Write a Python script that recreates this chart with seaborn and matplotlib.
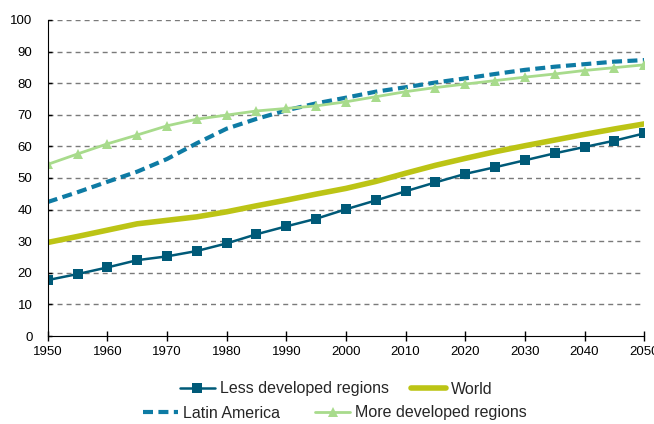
import numpy as np
import pandas as pd
from matplotlib import pyplot as plt
import seaborn as sns

years = list(range(1950, 2051, 5))
less_developed = [17.7, 19.6, 21.7, 24.0, 25.2, 26.9, 29.3, 32.2, 34.7, 37.1, 40.1,
                  42.9, 45.8, 48.6, 51.3, 53.4, 55.6, 57.8, 59.8, 61.8, 64.1]
world = [29.6, 31.5, 33.5, 35.5, 36.6, 37.7, 39.3, 41.2, 43.0, 44.9, 46.7,
         48.9, 51.5, 54.0, 56.2, 58.3, 60.2, 62.0, 63.8, 65.5, 67.1]
latin_america = [42.4, 45.5, 48.8, 52.0, 56.0, 61.0, 65.6, 68.7, 71.4, 73.6, 75.4,
                 77.3, 78.7, 80.2, 81.5, 82.9, 84.2, 85.2, 86.0, 86.8, 87.3]
more_developed = [54.3, 57.6, 60.8, 63.6, 66.5, 68.6, 69.9, 71.2, 72.0, 72.8, 74.1,
                  75.7, 77.3, 78.6, 79.7, 80.8, 81.9, 82.9, 84.0, 84.9, 85.8]

sns.set_style("white")
plt.rcParams['font.family'] = ['Liberation Sans', 'DejaVu Sans']

fig = plt.figure(figsize=(6.54, 4.24), dpi=100)
ax = fig.add_axes([0.073, 0.2075, 0.912, 0.7455])

df = pd.DataFrame({'year': years, 'less': less_developed, 'world': world,
                   'latin': latin_america, 'more': more_developed})

sns.lineplot(data=df, x='year', y='less', ax=ax, color='#005a78', lw=1.8,
             marker='s', markersize=7.5, markeredgewidth=0,
             label='Less developed regions')
sns.lineplot(data=df, x='year', y='latin', ax=ax, color='#0e7ba4', lw=3,
             linestyle=(0, (2.4, 1.3)), label='Latin America')
sns.lineplot(data=df, x='year', y='world', ax=ax, color='#bcc415', lw=4,
             label='World')
sns.lineplot(data=df, x='year', y='more', ax=ax, color='#a8db8c', lw=2,
             marker='^', markersize=7.5, markeredgewidth=0,
             label='More developed regions')

ax.set_xlim(1950, 2050)
ax.set_ylim(0, 100)
ax.set_xticks(range(1950, 2051, 10))
ax.set_yticks(range(0, 101, 10))
ax.set_xlabel('')
ax.set_ylabel('')
ax.tick_params(axis='both', labelsize=9.5, colors='black')
ax.tick_params(axis='x', direction='inout', length=7, width=1, bottom=True, pad=4)
ax.tick_params(axis='y', direction='in', length=3, width=1, left=True, pad=11)

for y in range(10, 101, 10):
    ax.axhline(y, color='#7a7a7a', lw=1, linestyle=(0, (3.6, 2.9)), zorder=0)

sns.despine(ax=ax)
ax.spines['left'].set_color('black')
ax.spines['bottom'].set_color('black')

handles, labels = ax.get_legend_handles_labels()
h = dict(zip(labels, handles))
ax.get_legend().remove()

# Excel-style legend: two rows that are not column aligned
row1 = fig.legend([h['Less developed regions'], h['World']],
                  ['Less developed regions', 'World'],
                  loc='center', bbox_to_anchor=(336 / 654, 1 - 389 / 424), ncol=2,
                  frameon=False, fontsize=11.5, handlelength=2.2,
                  columnspacing=1.4, handletextpad=0.3, borderpad=0)
row2 = fig.legend([h['Latin America'], h['More developed regions']],
                  ['Latin America', 'More developed regions'],
                  loc='center', bbox_to_anchor=(335 / 654, 1 - 413 / 424), ncol=2,
                  frameon=False, fontsize=11.5, handlelength=2.2,
                  columnspacing=2.2, handletextpad=0.3, borderpad=0)

fig.savefig('out.png', dpi=100)
